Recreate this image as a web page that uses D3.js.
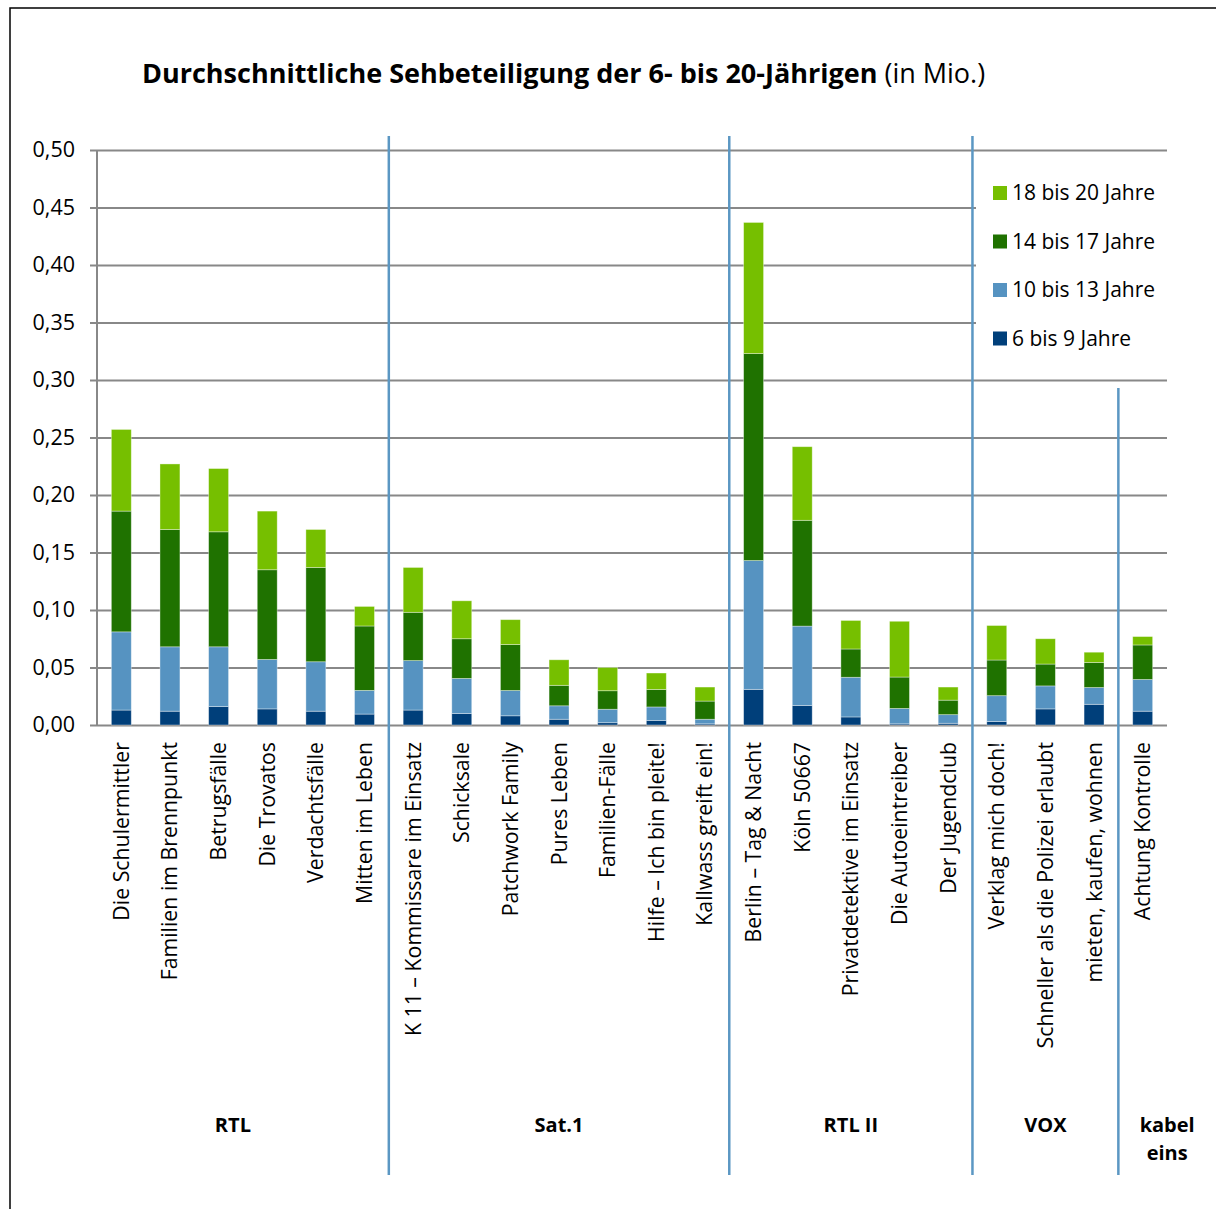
<!DOCTYPE html>
<html>
<head>
<meta charset="utf-8">
<script src="https://cdn.jsdelivr.net/npm/d3@7"></script>
<style>
  body { margin: 0; background: #fff; }
  svg text { font-family: "Open Sans", sans-serif; fill: #000; }
</style>
</head>
<body>
<svg id="chart"></svg>
<script>
// Sendungen (Reihenfolge wie im Original)
const categories = [
    "Die Schulermittler", "Familien im Brennpunkt", "Betrugsfälle", "Die Trovatos", "Verdachtsfälle", "Mitten im Leben",
    "K 11 – Kommissare im Einsatz", "Schicksale", "Patchwork Family", "Pures Leben", "Familien-Fälle", "Hilfe – Ich bin pleite!", "Kallwass greift ein!",
    "Berlin – Tag & Nacht", "Köln 50667", "Privatdetektive im Einsatz", "Die Autoeintreiber", "Der Jugendclub",
    "Verklag mich doch!", "Schneller als die Polizei erlaubt", "mieten, kaufen, wohnen",
    "Achtung Kontrolle"
];

const channels = ["RTL", "Sat.1", "RTL II", "VOX", "kabel eins"];
const channelCounts = [6, 7, 5, 3, 1];

const seriesNames = ["6 bis 9 Jahre", "10 bis 13 Jahre", "14 bis 17 Jahre", "18 bis 20 Jahre"];
const age6to9 = [0.013, 0.012, 0.016, 0.014, 0.012, 0.0095, 0.013, 0.010, 0.008, 0.005, 0.002, 0.004, 0.001, 0.031, 0.017, 0.007, 0.001, 0.0015, 0.003, 0.014, 0.018, 0.012];
const age10to13 = [0.068, 0.056, 0.052, 0.043, 0.043, 0.0206, 0.043, 0.0305, 0.022, 0.0117, 0.0117, 0.0117, 0.004, 0.112, 0.069, 0.0345, 0.0134, 0.0075, 0.0225, 0.020, 0.0146, 0.0276];
const age14to17 = [0.105, 0.102, 0.100, 0.078, 0.082, 0.056, 0.042, 0.0345, 0.040, 0.0178, 0.0161, 0.0152, 0.0158, 0.180, 0.092, 0.0246, 0.0273, 0.0126, 0.031, 0.019, 0.0218, 0.030];
const age18to20 = [0.071, 0.057, 0.055, 0.051, 0.033, 0.017, 0.039, 0.033, 0.0216, 0.0222, 0.0202, 0.0143, 0.0122, 0.114, 0.064, 0.0248, 0.0485, 0.0114, 0.030, 0.022, 0.0089, 0.0073];

const yTicks = [0, 0.05, 0.10, 0.15, 0.20, 0.25, 0.30, 0.35, 0.40, 0.45, 0.50];

const colors = ["#003F7A", "#5693C1", "#1F7200", "#76BF00"];
const gridColor = "#888888";
const sepColor = "#5B97C3";

const width = 1216;
const height = 1209;
const margin = { top: 150, right: 49, bottom: 484, left: 97 };

const svg = d3.select("#chart")
    .attr("width", width)
    .attr("height", height);

// Rahmen
svg.append("rect")
    .attr("x", 10).attr("y", 8)
    .attr("width", 1400).attr("height", 1400)
    .attr("fill", "none")
    .attr("stroke", "#000")
    .attr("stroke-width", 1.5);

// Titel
const title = svg.append("text")
    .attr("x", 142)
    .attr("y", 83)
    .style("font-size", "27px");
title.append("tspan").style("font-weight", "bold").text("Durchschnittliche Sehbeteiligung der 6- bis 20-Jährigen");
title.append("tspan").text(" (in Mio.)");

const xScale = d3.scaleBand()
    .domain(categories)
    .range([margin.left, width - margin.right])
    .paddingInner(0.59)
    .paddingOuter(0.295);

const yScale = d3.scaleLinear()
    .domain([0, 0.5])
    .range([height - margin.bottom, margin.top]);

// Gitterlinien + Beschriftung der y-Achse
svg.append("g")
    .attr("id", "y-axis")
    .attr("transform", `translate(${margin.left - 7}, 0)`)
    .call(d3.axisLeft(yScale)
        .tickValues(yTicks)
        .tickSize(-(width - margin.right - margin.left + 7))
        .tickPadding(15)
        .tickFormat(d => d3.format(".2f")(d).replace(".", ",")))
    .call(g => g.select(".domain").remove())
    .call(g => g.selectAll("line").attr("stroke", gridColor).attr("stroke-width", 2))
    .call(g => g.selectAll("text").style("font-size", "21.5px").style("font-family", "'Open Sans', sans-serif").attr("fill", "#000"));

svg.append("line")
    .attr("x1", margin.left).attr("x2", margin.left)
    .attr("y1", yScale(0.5)).attr("y2", yScale(0))
    .attr("stroke", gridColor)
    .attr("stroke-width", 2);

// Balken
const table = categories.map((c, i) => ({
    name: c,
    s0: age6to9[i], s1: age10to13[i], s2: age14to17[i], s3: age18to20[i]
}));
const stacked = d3.stack().keys(["s0", "s1", "s2", "s3"])(table);

svg.append("g")
    .selectAll("g")
    .data(stacked)
    .join("g")
    .attr("fill", (d, i) => colors[i])
    .selectAll("rect")
    .data(d => d)
    .join("rect")
    .attr("x", d => xScale(d.data.name))
    .attr("width", xScale.bandwidth())
    .attr("y", d => yScale(d[1]))
    .attr("height", d => yScale(d[0]) - yScale(d[1]))
    .attr("stroke", "rgba(255,255,255,0.45)")
    .attr("stroke-width", 0.8);

// Legende (weißer Hintergrund verdeckt die Gitterlinien)
const legend = svg.append("g").attr("transform", "translate(976, 166)");
legend.append("rect")
    .attr("width", width - margin.right - 976 + 2)
    .attr("height", 198)
    .attr("fill", "#fff");

const legendOrder = [3, 2, 1, 0];
legendOrder.forEach((s, k) => {
    const row = legend.append("g").attr("transform", `translate(17, ${27 + k * 48.5})`);
    row.append("rect")
        .attr("x", 0).attr("y", -7)
        .attr("width", 14).attr("height", 14)
        .attr("fill", colors[s]);
    row.append("text")
        .attr("x", 19)
        .attr("y", 0)
        .attr("dy", "0.35em")
        .style("font-size", "21px")
        .text(seriesNames[s]);
});

// Kategorienbeschriftung (gedreht)
svg.append("g")
    .selectAll("text")
    .data(categories)
    .join("text")
    .attr("transform", d => `translate(${xScale(d) + xScale.bandwidth() / 2}, ${yScale(0) + 17}) rotate(-90)`)
    .attr("text-anchor", "end")
    .attr("dy", "0.35em")
    .style("font-size", "21.3px")
    .text(d => d);

// Sendergruppen: Trennlinien und Namen
const step = xScale.step();
let start = 0;
const bounds = [];
channelCounts.forEach(n => {
    const first = categories[start];
    const left = xScale(first) + xScale.bandwidth() / 2 - step / 2;
    bounds.push({ left: left, right: left + n * step });
    start += n;
});

bounds.forEach((b, i) => {
    if (i === 0) return;
    svg.append("line")
        .attr("x1", b.left).attr("x2", b.left)
        .attr("y1", i === bounds.length - 1 ? 388 : 136)
        .attr("y2", 1175)
        .attr("stroke", sepColor)
        .attr("stroke-width", 2.5);
});

channels.forEach((c, i) => {
    const b = bounds[i];
    let cx = (b.left + b.right) / 2;
    if (i === 0) cx = (77 + b.right) / 2;
    if (i === channels.length - 1) cx = (b.left + width) / 2;
    const t = svg.append("text")
        .attr("x", cx)
        .attr("y", 1132)
        .attr("text-anchor", "middle")
        .style("font-size", "20px")
        .style("font-weight", "bold");
    if (c === "kabel eins") {
        t.append("tspan").attr("x", cx).attr("y", 1132).text("kabel");
        t.append("tspan").attr("x", cx).attr("y", 1160).text("eins");
    } else {
        t.text(c);
    }
});
</script>
</body>
</html>
